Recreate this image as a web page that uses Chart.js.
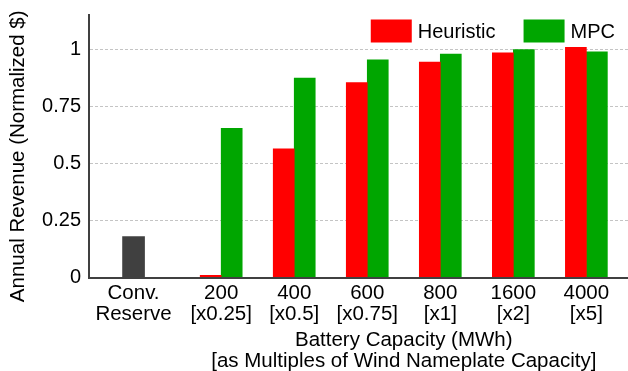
<!DOCTYPE html>
<html>
<head>
<meta charset="utf-8">
<script src="https://cdn.jsdelivr.net/npm/chart.js@4"></script>
<style>
  html, body { margin: 0; padding: 0; background: #fff; }
  canvas { display: block; }
</style>
</head>
<body>
<canvas id="c" width="628" height="371"></canvas>
<script>
// Category labels (two lines each)
const categories = [
  ['Conv.', 'Reserve'],
  ['200', '[x0.25]'],
  ['400', '[x0.5]'],
  ['600', '[x0.75]'],
  ['800', '[x1]'],
  ['1600', '[x2]'],
  ['4000', '[x5]']
];
// Annual revenue, normalized
const reserveRevenue   = [0.18, null, null, null, null, null, null];
const heuristicRevenue = [null, 0.01, 0.565, 0.855, 0.945, 0.985, 1.01];
const mpcRevenue       = [null, 0.655, 0.875, 0.955, 0.98, 1.0, 0.99];
const yTicks = [0, 0.25, 0.5, 0.75, 1];

const xTitle = ['Battery Capacity (MWh)', '[as Multiples of Wind Nameplate Capacity]'];
const yTitle = 'Annual Revenue (Normalized $)';

// Layout: where each category sits on the x scale (reserve bar stands apart)
const slots = [-0.2, 1, 2, 3, 4, 5, 6];

const FONT_FAMILY = "'Liberation Sans', Arial, Helvetica, sans-serif";
const TITLE_FONT = '20.5px ' + FONT_FAMILY;
Chart.defaults.font.family = FONT_FAMILY;
Chart.defaults.font.size = 20;
Chart.defaults.color = '#000';

const toPoints = vals => vals.map((v, i) => ({ x: slots[i], y: v }));

// Axis titles (x title centred over the battery groups) and an in-plot legend
const decor = {
  id: 'decor',
  afterDraw(chart) {
    const { ctx, chartArea, scales: { x } } = chart;
    ctx.save();
    ctx.font = TITLE_FONT;
    ctx.fillStyle = '#000';
    ctx.textAlign = 'center';
    ctx.textBaseline = 'middle';
    const cx = (x.getPixelForValue(slots[1]) + x.getPixelForValue(slots[slots.length - 1])) / 2;
    ctx.fillText(xTitle[0], cx, chartArea.bottom + 62.5);
    ctx.fillText(xTitle[1], cx, chartArea.bottom + 84);

    // vertical title
    ctx.save();
    ctx.translate(18.5, chartArea.top + 141);
    ctx.rotate(-Math.PI / 2);
    ctx.fillText(yTitle, 0, 0);
    ctx.restore();

    // legend entries: Heuristic and MPC
    ctx.font = '20px ' + FONT_FAMILY;
    const entries = [chart.data.datasets[1], chart.data.datasets[2]];
    const boxW = 41, boxH = 23, gap = 6, itemGap = 28;
    const widths = entries.map(d => boxW + gap + ctx.measureText(d.label).width);
    const total = widths.reduce((a, b) => a + b, 0) + itemGap * (entries.length - 1);
    let lx = chartArea.right - 13 - total;
    const top = 19.5;
    ctx.textAlign = 'left';
    entries.forEach((d, i) => {
      ctx.fillStyle = d.backgroundColor;
      ctx.fillRect(lx, top, boxW, boxH);
      ctx.fillStyle = '#000';
      ctx.fillText(d.label, lx + boxW + gap, top + boxH / 2 + 1);
      lx += widths[i] + itemGap;
    });
    ctx.restore();
  }
};

new Chart(document.getElementById('c'), {
  type: 'bar',
  data: {
    datasets: [
      { label: 'Conv. Reserve', data: toPoints(reserveRevenue), backgroundColor: '#404040', barThickness: 22 },
      { label: 'Heuristic', data: toPoints(heuristicRevenue), backgroundColor: '#ff0000', barThickness: 21 },
      { label: 'MPC', data: toPoints(mpcRevenue), backgroundColor: '#00a600', barThickness: 21 }
    ]
  },
  options: {
    responsive: false,
    animation: false,
    devicePixelRatio: 1,
    layout: { padding: { top: 15.3, right: 0, bottom: 0, left: 0 } },
    datasets: { bar: { skipNull: true, borderWidth: 0 } },
    plugins: {
      legend: { display: false },
      tooltip: { enabled: false }
    },
    scales: {
      x: {
        type: 'linear',
        offset: false,
        min: -0.81,
        max: 6.57,
        grid: { display: false, drawTicks: false },
        border: { display: true, color: '#404040', width: 2, z: 1 },
        afterBuildTicks: s => { s.ticks = slots.map(v => ({ value: v })); },
        afterFit: s => { s.height = 93.3; s.paddingLeft = 0; s.paddingRight = 0; },
        ticks: {
          autoSkip: false,
          maxRotation: 0,
          padding: 5.5,
          font: { size: 20.5, lineHeight: 1.0 },
          callback: (v, i) => categories[i]
        }
      },
      y: {
        min: 0,
        max: 1.15,
        afterBuildTicks: s => { s.ticks = yTicks.map(v => ({ value: v })); },
        afterFit: s => { s.width = 89; s.paddingTop = 0; s.paddingBottom = 0; },
        grid: { color: '#c4c4c4', lineWidth: 1, drawTicks: false },
        border: { display: true, color: '#404040', width: 2, dash: [3, 2], z: 1 },
        ticks: {
          padding: 8,
          font: { size: 20 },
          callback: v => String(v)
        }
      }
    }
  },
  plugins: [decor]
});
</script>
</body>
</html>
